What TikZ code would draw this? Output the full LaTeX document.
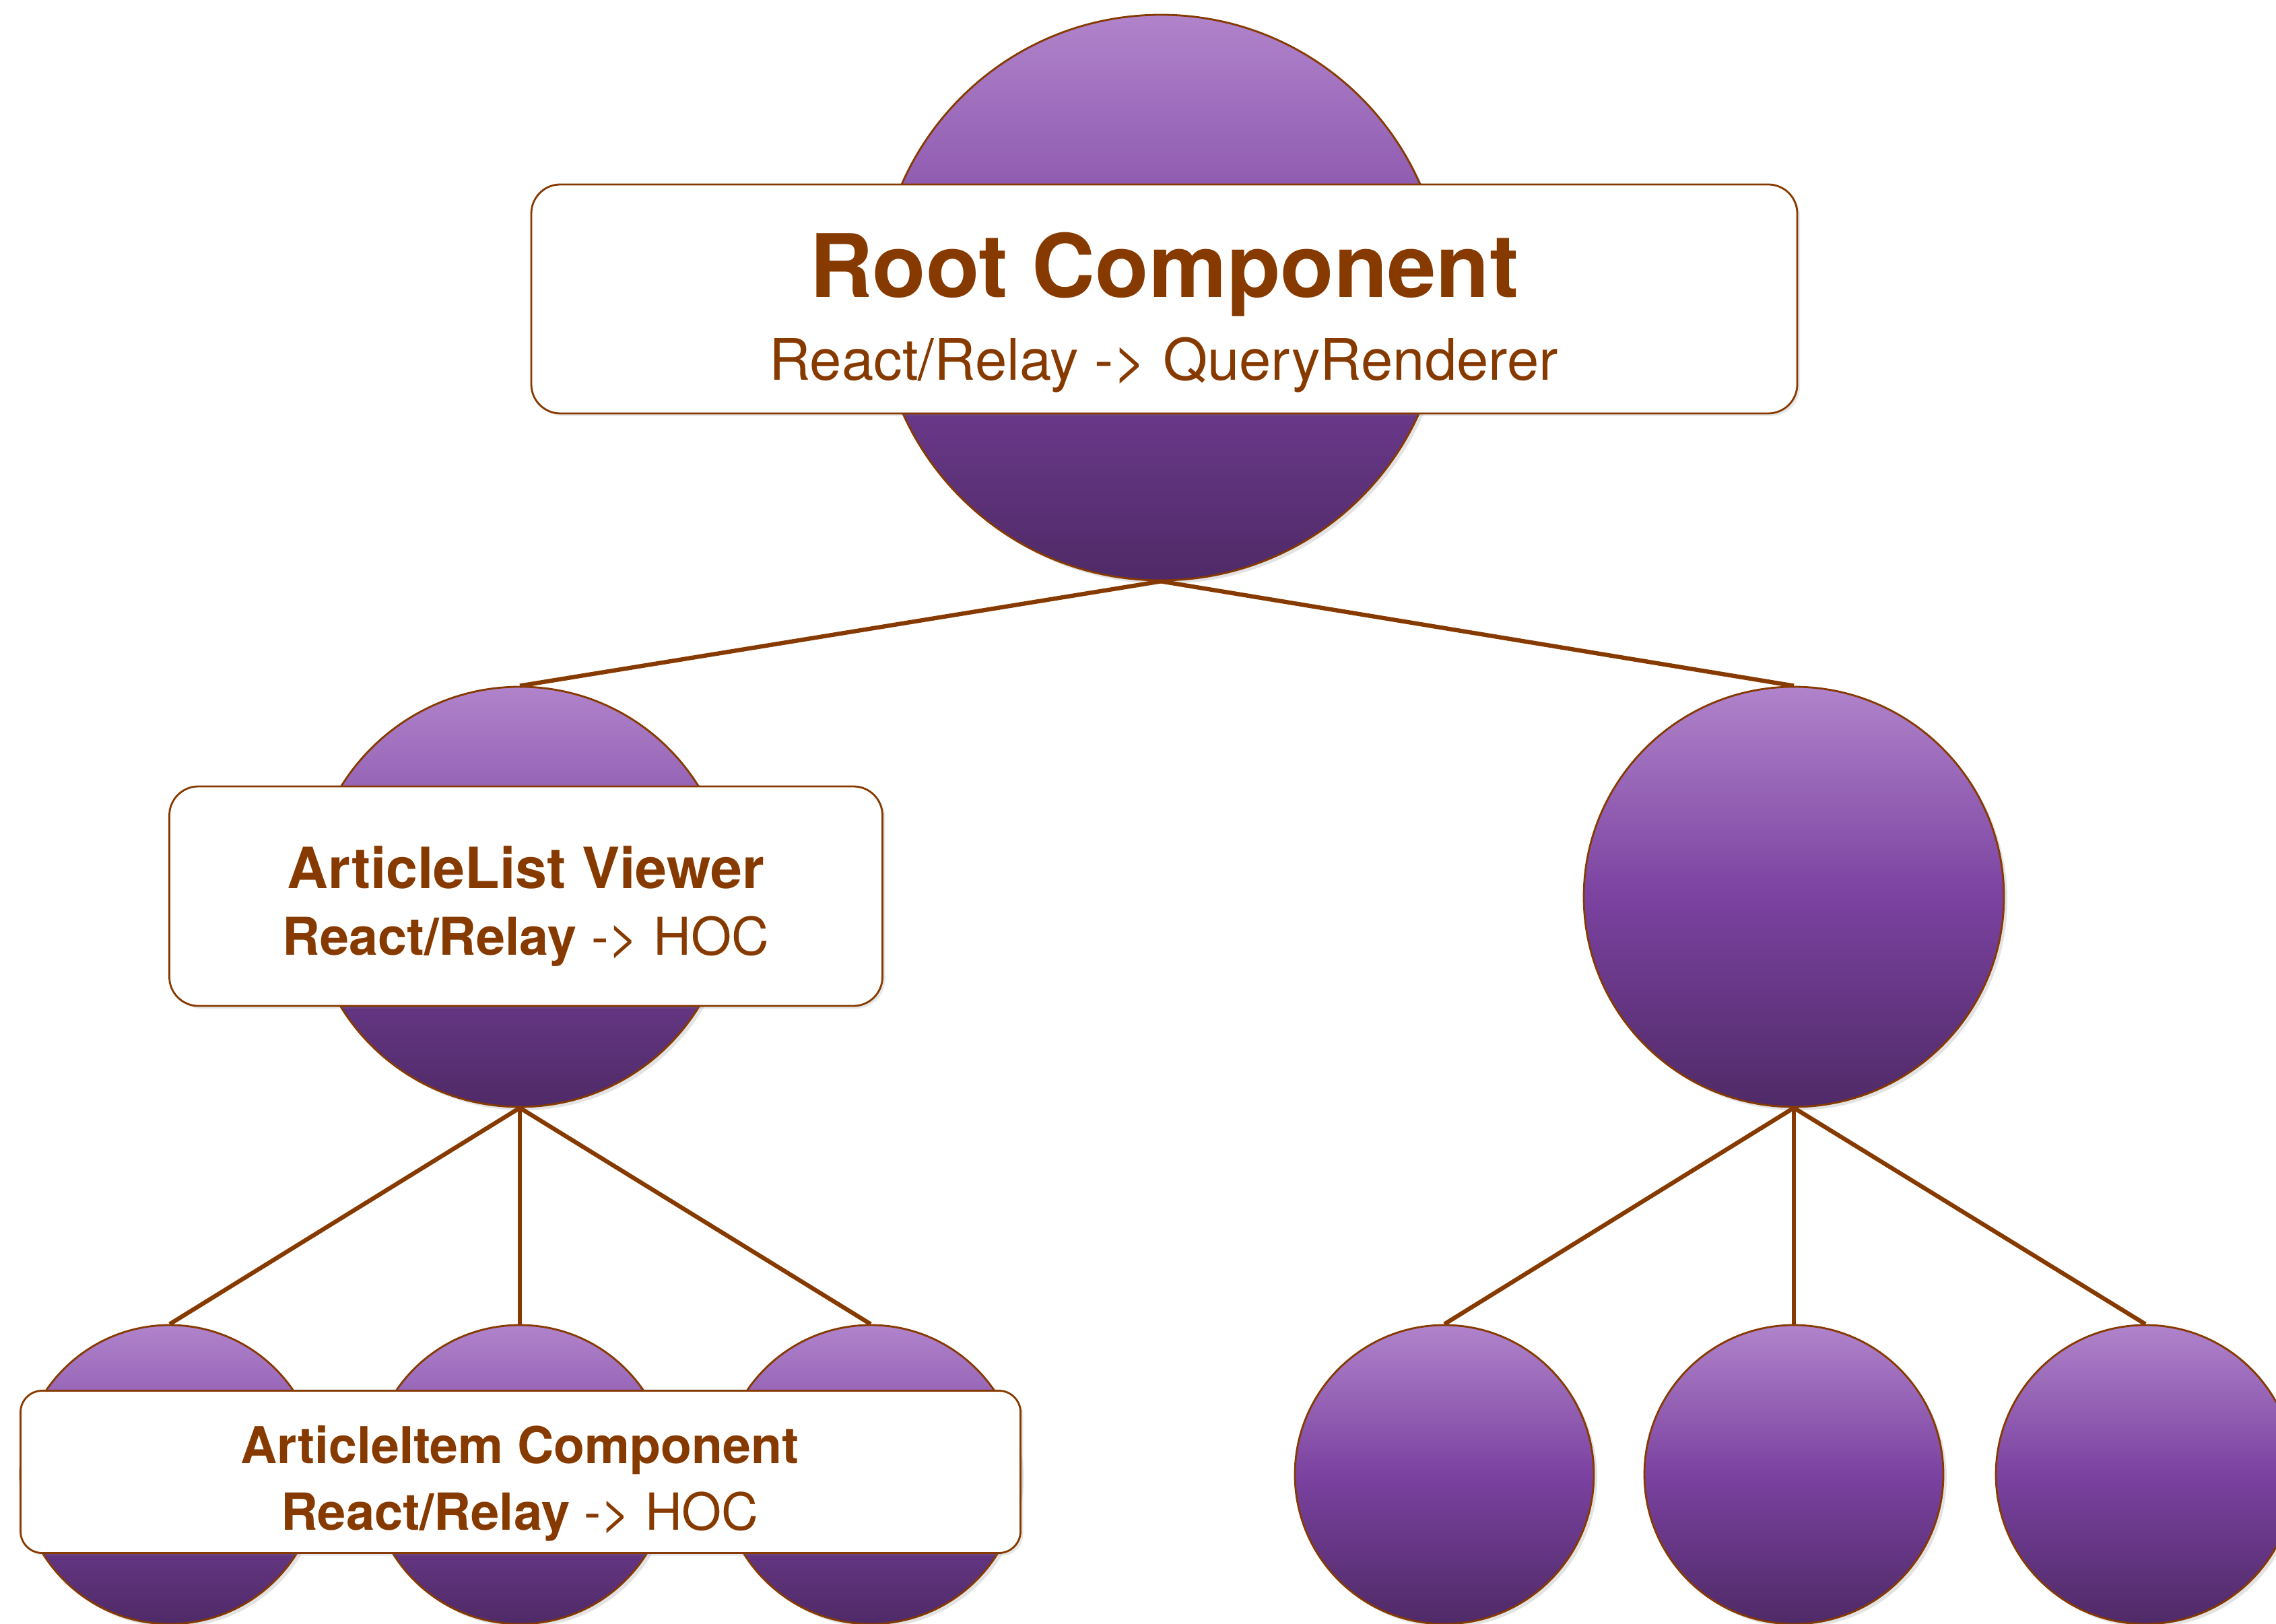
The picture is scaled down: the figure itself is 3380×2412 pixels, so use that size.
\documentclass[tikz,border=0pt]{standalone}
\usepackage{fontspec}
\setmainfont{TeX Gyre Heros}
\usepackage{xcolor}
\usepackage{tikz}
\usetikzlibrary{shadows}
\definecolor{rust}{RGB}{134,58,0}
\definecolor{plumtop}{RGB}{176,131,203}
\definecolor{plummid}{RGB}{123,66,160}
\definecolor{plumbot}{RGB}{79,42,103}
\tikzset{
  comp/.style={circle, draw=rust, line width=0.8pt, inner sep=0pt,
    top color=plumtop, bottom color=plumbot, middle color=plummid,
    drop shadow={opacity=0.22, shadow xshift=0.5mm, shadow yshift=-0.5mm}},
  big/.style={comp, minimum size=8.4cm},
  mid/.style={comp, minimum size=6.24cm},
  leaf/.style={comp, minimum size=4.44cm},
  edge/.style={draw=rust, line width=1.8pt},
  tag/.style={draw=rust, line width=0.8pt, fill=white, rounded corners=4.3mm,
    drop shadow={opacity=0.18, shadow xshift=0.4mm, shadow yshift=-0.4mm}},
  ttl/.style={text=rust, anchor=base, inner sep=0pt},
  % 字号
  huge/.style={ttl, font=\fontsize{37}{44}\selectfont\bfseries},
  sub/.style={ttl, font=\fontsize{24.2}{29}\selectfont},
  head/.style={ttl, font=\fontsize{24}{29}\selectfont\bfseries},
  hsub/.style={ttl, font=\fontsize{22}{27}\selectfont\bfseries},
  small/.style={ttl, font=\fontsize{21.4}{26}\selectfont\bfseries},
  ssub/.style={ttl, font=\fontsize{21.6}{26}\selectfont\bfseries}
}
\begin{document}
\begin{tikzpicture}[x=0.1mm, y=-0.1mm]
  \clip (0,0) rectangle (3380,2412);
  % circles
  \node[big] (root) at (1724,442) {};
  \node[mid] (listv) at (772,1332) {};
  \node[mid] (other) at (2664,1332) {};
  \foreach \i/\x in {1/252,2/772,3/1293}
    \node[leaf] (item\i) at (\x,2190) {};
  \foreach \i/\x in {1/2145,2/2664,3/3186}
    \node[leaf] (leaf\i) at (\x,2190) {};
  % edges
  \draw[edge] (root.south) -- (listv.north);
  \draw[edge] (root.south) -- (other.north);
  \foreach \i in {1,2,3} {
    \draw[edge] (listv.south) -- (item\i.north);
    \draw[edge] (other.south) -- (leaf\i.north);
  }
  % labels
  \node[tag, minimum width=18.8cm, minimum height=3.4cm] (rootbox) at (1729,444) {};
  \node[huge] (roottitle) at (1729,442) {Root Component};
  \node[sub] (rootsub) at (1728,565) {React/Relay -> QueryRenderer};
  \node[tag, minimum width=10.59cm, minimum height=3.26cm] (listbox) at (781,1331) {};
  \node[head] (listtitle) at (781,1319) {ArticleList Viewer};
  \node[hsub] (listsub) at (781,1418) {React/Relay \mdseries-> HOC};
  \node[tag, rounded corners=3.2mm, minimum width=14.85cm, minimum height=2.41cm] (itembox) at (773,2186) {};
  \node[small] (itemtitle) at (772,2173) {ArticleItem Component};
  \node[ssub] (itemsub) at (772,2272) {React/Relay \mdseries-> HOC};
\end{tikzpicture}
\end{document}
